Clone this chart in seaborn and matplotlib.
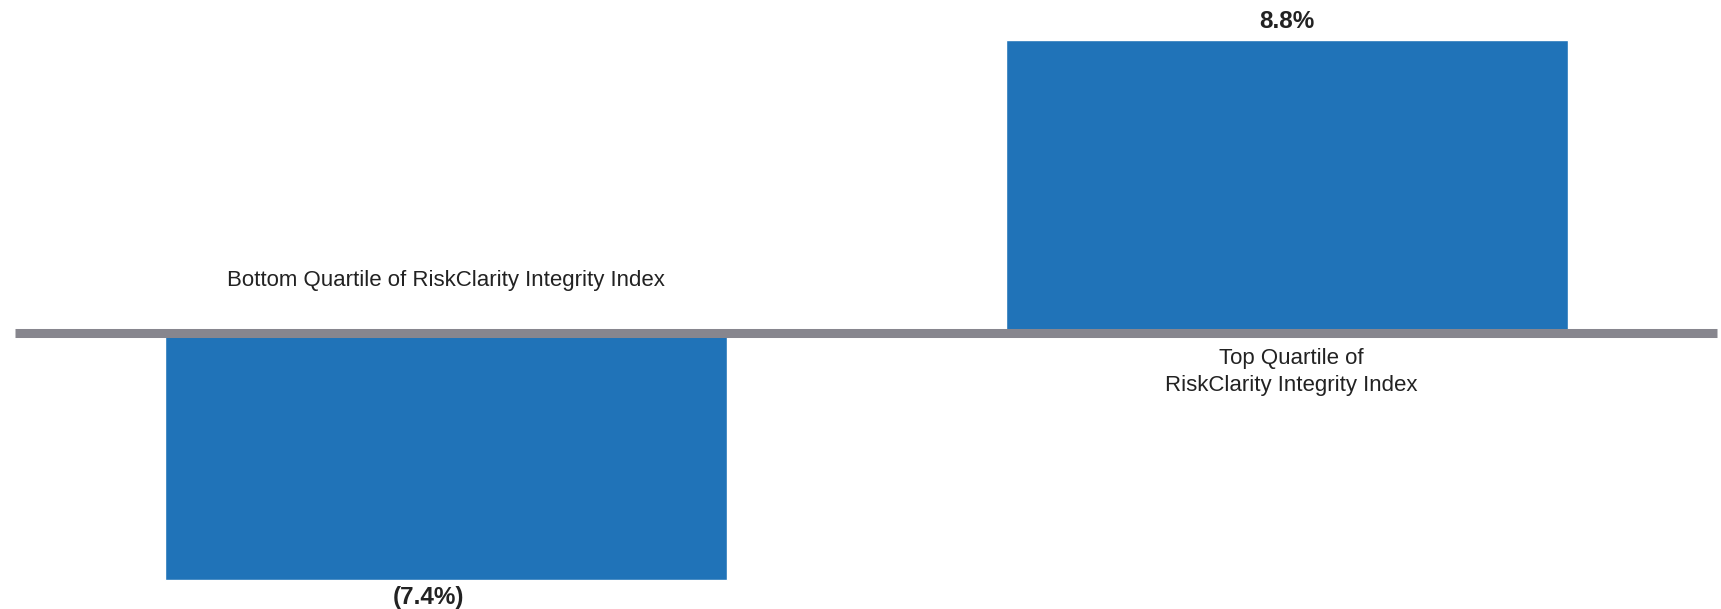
import matplotlib
matplotlib.use("Agg")
import matplotlib.pyplot as plt
import seaborn as sns
import pandas as pd

categories = ["Bottom Quartile of RiskClarity Integrity Index",
              "Top Quartile of\nRiskClarity Integrity Index"]
values = [-7.4, 8.8]
value_labels = ["(7.4%)", "8.8%"]

sns.set_theme(style="white")
plt.rcParams['font.family'] = ['Liberation Sans', 'DejaVu Sans']

df = pd.DataFrame({"cat": categories, "val": values})

fig = plt.figure(figsize=(17.21, 6.09), dpi=100)
ax = fig.add_axes([0, 0, 1, 1])
sns.barplot(data=df, x="cat", y="val", color="#2073b8", width=0.668,
            saturation=1, ax=ax, errorbar=None)

ax.set_xlim(-0.530, 1.516)
ax.set_ylim(-8.27, 10.0)
ax.axhline(0, xmin=(15/1721), xmax=(1717/1721), color="#87868e", linewidth=6.5,
           zorder=5, solid_capstyle="butt")

txt = "#222222"
# value labels
ax.text(1, 9.35, value_labels[1], ha="center", va="center", fontsize=17.5,
        fontweight="bold", color=txt)
ax.text(-0.021, -7.93, value_labels[0], ha="center", va="center", fontsize=17.5,
        fontweight="bold", color=txt)
# category labels
ax.text(0, 1.6, categories[0], ha="center", va="center", fontsize=16, color=txt)
ax.text(1.005, -1.16, categories[1], ha="center", va="center", fontsize=16, color=txt,
        linespacing=1.33)

ax.set_axis_off()
fig.savefig("out.png", dpi=100)
